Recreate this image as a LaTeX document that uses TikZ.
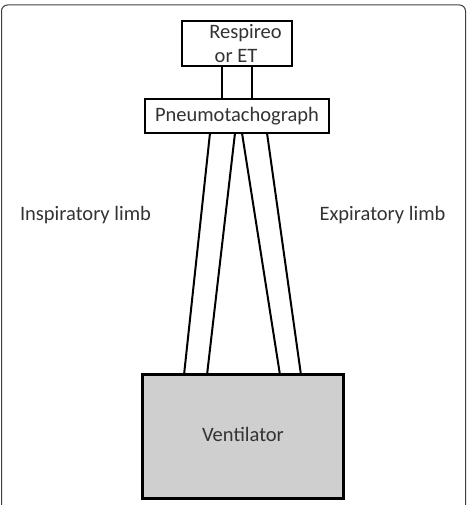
\documentclass[tikz,border=0pt]{standalone}
\usepackage{fontspec}
\setmainfont{Carlito}
\begin{document}
\begin{tikzpicture}[x=1pt,y=1pt,
  box/.style={draw=black,line width=2pt,fill=white,inner sep=0pt},
  lbl/.style={font=\fontsize{20.5}{22}\selectfont,text=black!80,inner sep=0pt},
  limb/.style={draw=black,line width=2pt,fill=white,line join=round}]
\useasboundingbox (0,0) rectangle (467,505);
\clip (0,0) rectangle (467,505);
% outer frame
\draw[black!75,line width=1pt,rounded corners=6pt] (1.5,-10) -- (1.5,500) -- (465.5,500) -- (465.5,-10);
% limbs
\coordinate (l1) at (210,372); \coordinate (l2) at (235,372);
\coordinate (l3) at (207,130); \coordinate (l4) at (184,130);
\coordinate (r1) at (242,372); \coordinate (r2) at (267,372);
\coordinate (r3) at (301,130); \coordinate (r4) at (280,130);
\draw[limb] (l1) -- (l2) -- (l3) -- (l4) -- cycle;
\draw[limb] (r1) -- (r2) -- (r3) -- (r4) -- cycle;
% boxes
\node[box,minimum width=30pt,minimum height=33pt] (conn) at (237,422.5) {};
\node[box,minimum width=110pt,minimum height=45pt] (resp) at (237,461.5) {};
\node[lbl] (resp1) at (245.5,472) {Respireo};
\node[lbl] (resp2) at (236,448.5) {or ET};
\node[box,minimum width=184pt,minimum height=34pt,lbl,inner sep=0pt] (pneu) at (237,389) {Pneumotachograph};
\node[box,fill=black!19,line width=3pt,minimum width=201pt,minimum height=124pt] (vent) at (242.5,68) {};
\node[lbl] at (243,71) {Ventilator};
\node[lbl] (insp) at (85.5,290) {Inspiratory limb};
\node[lbl] (exp) at (382.5,290) {Expiratory limb};
\end{tikzpicture}
\end{document}
